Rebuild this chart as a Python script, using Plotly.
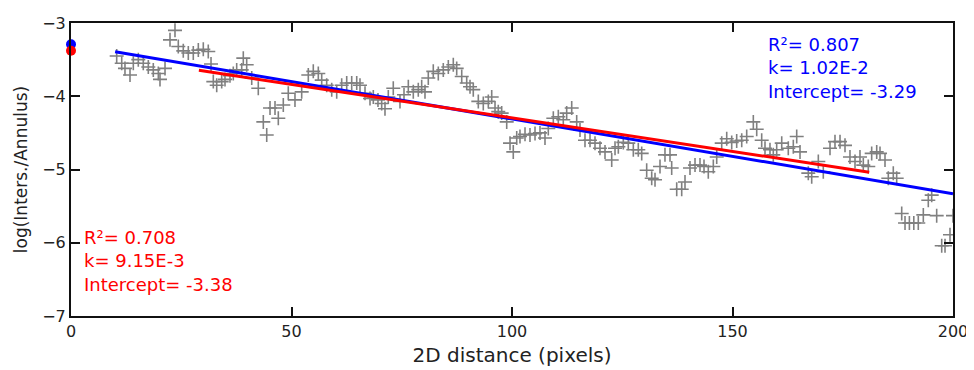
import plotly.graph_objects as go

# ---- data ----
dist = [10.36, 11.50, 12.24, 13.38, 14.13, 15.26, 16.39, 17.53, 18.66, 19.80,
        20.18, 21.32, 22.45, 23.58, 24.33, 25.46, 26.60, 27.73, 28.87, 30.00,
        31.13, 31.75, 32.27, 33.04, 34.17, 34.92, 36.05, 36.80, 37.57, 38.71,
        39.07, 39.84, 40.98, 42.47, 43.61, 44.38, 45.13, 46.26, 47.01, 48.14,
        49.27, 50.79, 52.31, 53.81, 54.94, 56.08, 56.85, 57.98, 59.12, 60.25,
        61.38, 62.52, 63.65, 64.79, 65.53, 66.67, 67.80, 68.55, 69.61, 70.45,
        71.20, 71.95, 73.08, 74.60, 75.51, 76.49, 77.62, 78.75, 79.52, 80.27,
        81.02, 82.15, 83.29, 84.42, 85.56, 86.69, 87.46, 88.60, 89.73, 90.48,
        91.22, 92.36, 93.49, 94.63, 95.40, 96.15, 96.89, 97.66, 98.80, 99.55,
        100.29, 101.07, 101.81, 102.95, 104.08, 105.22, 106.35, 107.48, 108.23, 109.37,
        110.50, 111.63, 112.40, 113.54, 114.67, 115.42, 116.55, 117.69, 118.82, 119.95,
        121.09, 122.61, 123.36, 124.11, 125.24, 126.37, 127.51, 128.64, 129.41, 130.54,
        131.68, 132.43, 133.56, 134.69, 135.83, 136.21, 137.35, 138.48, 139.23, 140.36,
        141.50, 142.63, 143.54, 144.51, 145.65, 146.42, 147.55, 148.69, 149.82, 150.95,
        152.09, 153.22, 154.72, 155.49, 156.62, 157.37, 158.50, 159.25, 160.02, 161.16,
        162.65, 163.79, 164.56, 165.31, 167.19, 167.96, 169.46, 170.59, 172.11, 173.24,
        174.38, 175.51, 176.64, 177.78, 178.91, 179.66, 180.79, 181.56, 182.70, 183.45,
        184.58, 185.33, 186.46, 187.23, 188.37, 189.12, 190.11, 191.11, 192.13, 193.27,
        194.40, 195.17, 196.30, 197.44, 198.19, 199.32, 200.0]
log_ratio = [-3.45, -3.55, -3.62, -3.71, -3.55, -3.50, -3.55, -3.60, -3.64, -3.69,
             -3.77, -3.62, -3.23, -3.10, -3.32, -3.38, -3.41, -3.41, -3.37, -3.36,
             -3.39, -3.56, -3.80, -3.85, -3.80, -3.77, -3.72, -3.69, -3.64, -3.64,
             -3.48, -3.57, -3.75, -3.89, -4.35, -4.53, -4.16, -4.16, -4.30, -4.12,
             -3.96, -4.05, -3.94, -3.71, -3.66, -3.69, -3.78, -3.85, -3.91, -3.94,
             -3.85, -3.82, -3.82, -3.82, -3.85, -3.96, -4.03, -4.01, -4.05, -4.10,
             -4.17, -4.01, -3.89, -4.07, -3.98, -3.87, -3.94, -3.91, -3.87, -3.94,
             -3.75, -3.66, -3.69, -3.64, -3.60, -3.57, -3.62, -3.73, -3.82, -3.87,
             -3.91, -4.07, -4.10, -4.07, -4.01, -4.16, -4.21, -4.23, -4.35, -4.64,
             -4.76, -4.57, -4.55, -4.52, -4.53, -4.51, -4.50, -4.57, -4.44, -4.30,
             -4.28, -4.32, -4.23, -4.16, -4.35, -4.46, -4.60, -4.60, -4.64, -4.71,
             -4.76, -4.87, -4.71, -4.69, -4.63, -4.64, -4.73, -4.73, -4.78, -5.01,
             -5.12, -5.14, -4.96, -4.80, -4.80, -4.98, -5.27, -5.27, -5.17, -4.98,
             -4.94, -4.94, -4.96, -5.03, -4.96, -4.83, -4.64, -4.58, -4.63, -4.61,
             -4.60, -4.55, -4.35, -4.45, -4.60, -4.71, -4.73, -4.80, -4.73, -4.64,
             -4.71, -4.69, -4.55, -4.76, -5.05, -5.10, -4.89, -5.03, -4.71, -4.62,
             -4.62, -4.67, -4.83, -4.89, -4.83, -4.94, -4.96, -4.78, -4.76, -4.78,
             -4.87, -5.12, -5.05, -5.12, -5.60, -5.73, -5.73, -5.73, -5.73, -5.62,
             -5.42, -5.35, -5.63, -6.04, -6.04, -5.89, -5.63]

# fits: R2, slope k, intercept, x extent
fit_names = ["blue", "red"]
fit_r2 = [0.807, 0.708]
fit_k = [1.02e-2, 9.15e-3]
fit_k_text = ["1.02E-2", "9.15E-3"]
fit_intercept = [-3.29, -3.38]
fit_xrange = [[10, 200], [29, 181]]
fit_colors = ["#0000ff", "#ff0000"]

x_ticks = [0, 50, 100, 150, 200]
y_ticks = [-7, -6, -5, -4, -3]

FONT = "DejaVu Sans, Verdana, sans-serif"
TXT = "#222222"

fig = go.Figure()
fig.add_trace(go.Scatter(
    x=dist, y=log_ratio, mode="markers",
    marker=dict(symbol="cross-thin", size=10, line=dict(width=1.6, color="#808080"),
                color="#808080"),
    showlegend=False, cliponaxis=True))

for i in range(len(fit_names)):
    xs = fit_xrange[i]
    ys = [fit_intercept[i] - fit_k[i] * v for v in xs]
    fig.add_trace(go.Scatter(x=xs, y=ys, mode="lines",
                             line=dict(color=fit_colors[i], width=3),
                             showlegend=False))

for i in range(len(fit_names)):
    fig.add_trace(go.Scatter(x=[0], y=[fit_intercept[i]], mode="markers",
                             marker=dict(size=10, color=fit_colors[i]),
                             cliponaxis=False, showlegend=False))

fig.add_annotation(xref="paper", yref="paper", x=0.788, y=0.97, xanchor="left", yanchor="top",
                   align="left", showarrow=False,
                   text=f"R²= {fit_r2[0]:.3f}<br>k= {fit_k_text[0]}<br>Intercept= {fit_intercept[0]:.2f}",
                   font=dict(family=FONT, size=18, color=fit_colors[0]))
fig.add_annotation(xref="paper", yref="paper", x=0.013, y=0.31, xanchor="left", yanchor="top",
                   align="left", showarrow=False,
                   text=f"R²= {fit_r2[1]:.3f}<br>k= {fit_k_text[1]}<br>Intercept= {fit_intercept[1]:.2f}",
                   font=dict(family=FONT, size=18, color=fit_colors[1]))

axis_common = dict(showgrid=False, zeroline=False, showline=True, linecolor="#111111",
                   linewidth=2, mirror="ticks", ticks="inside", ticklen=9, tickwidth=1.5,
                   tickcolor="#111111", automargin=False,
                   tickfont=dict(family=FONT, size=16, color=TXT))

# page body has an 8px margin, so the figure is shifted by (8, 8)
fig.update_layout(
    width=966, height=362,
    margin=dict(l=63, r=21, t=15, b=54),
    paper_bgcolor="white", plot_bgcolor="white",
    font=dict(family=FONT, size=16, color=TXT),
    xaxis=dict(range=[0, 200], tickvals=x_ticks,
               title=dict(text="2D distance (pixels)", standoff=8,
                          font=dict(family=FONT, size=20, color=TXT)),
               **axis_common),
    yaxis=dict(range=[-7, -3], tickvals=y_ticks,
               title=dict(text="log(Inters./Annulus)", standoff=10,
                          font=dict(family=FONT, size=17, color=TXT)),
               **axis_common),
)

fig.write_html("out.html")
